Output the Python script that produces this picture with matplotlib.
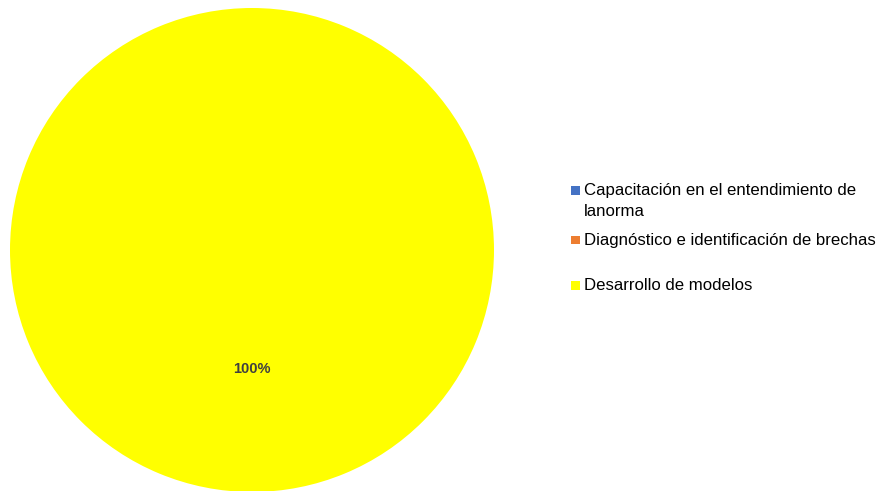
import matplotlib.pyplot as plt
from matplotlib.patches import Rectangle

plt.rcParams['font.family'] = ['Liberation Sans', 'DejaVu Sans']

categories = ["Capacitación en el entendimiento de\nlanorma",
              "Diagnóstico e identificación de brechas",
              "Desarrollo de modelos"]
values = [0, 0, 100]
colors = ["#4472C4", "#ED7D31", "#FFFF00"]


def pct_label(p):
    return "{:.0f}%".format(p) if p > 0 else ""


W, H = 882, 491
fig = plt.figure(figsize=(W / 100, H / 100), dpi=100)
fig.patch.set_facecolor("white")

# pie axes: centre (252, 250), radius 242 px
cx, cy, r = 252, 250, 242
ax = fig.add_axes([(cx - r) / W, (H - cy - r) / H, 2 * r / W, 2 * r / H])
wedges, texts, autotexts = ax.pie(values, colors=colors, startangle=90,
                                  autopct=pct_label, pctdistance=0.49,
                                  wedgeprops=dict(linewidth=0),
                                  textprops=dict(color="#404040", fontsize=10.5,
                                                 fontweight="bold"))
ax.set_xlim(-1, 1)
ax.set_ylim(-1, 1)
ax.set_aspect("equal")

# legend drawn by hand, one text per line (y in pixels from the top)
legend_y = [190, 240, 285]
line_step = 21
for label, color, y in zip(categories, colors, legend_y):
    fig.patches.append(Rectangle((571 / W, (H - y - 4.5) / H), 9 / W, 9 / H,
                                 transform=fig.transFigure, facecolor=color,
                                 edgecolor="none"))
    for i, line in enumerate(label.split("\n")):
        fig.text(584 / W, (H - y - i * line_step) / H, line, fontsize=12.1,
                 color="black", va="center", ha="left")

fig.savefig("out.png", dpi=100)
